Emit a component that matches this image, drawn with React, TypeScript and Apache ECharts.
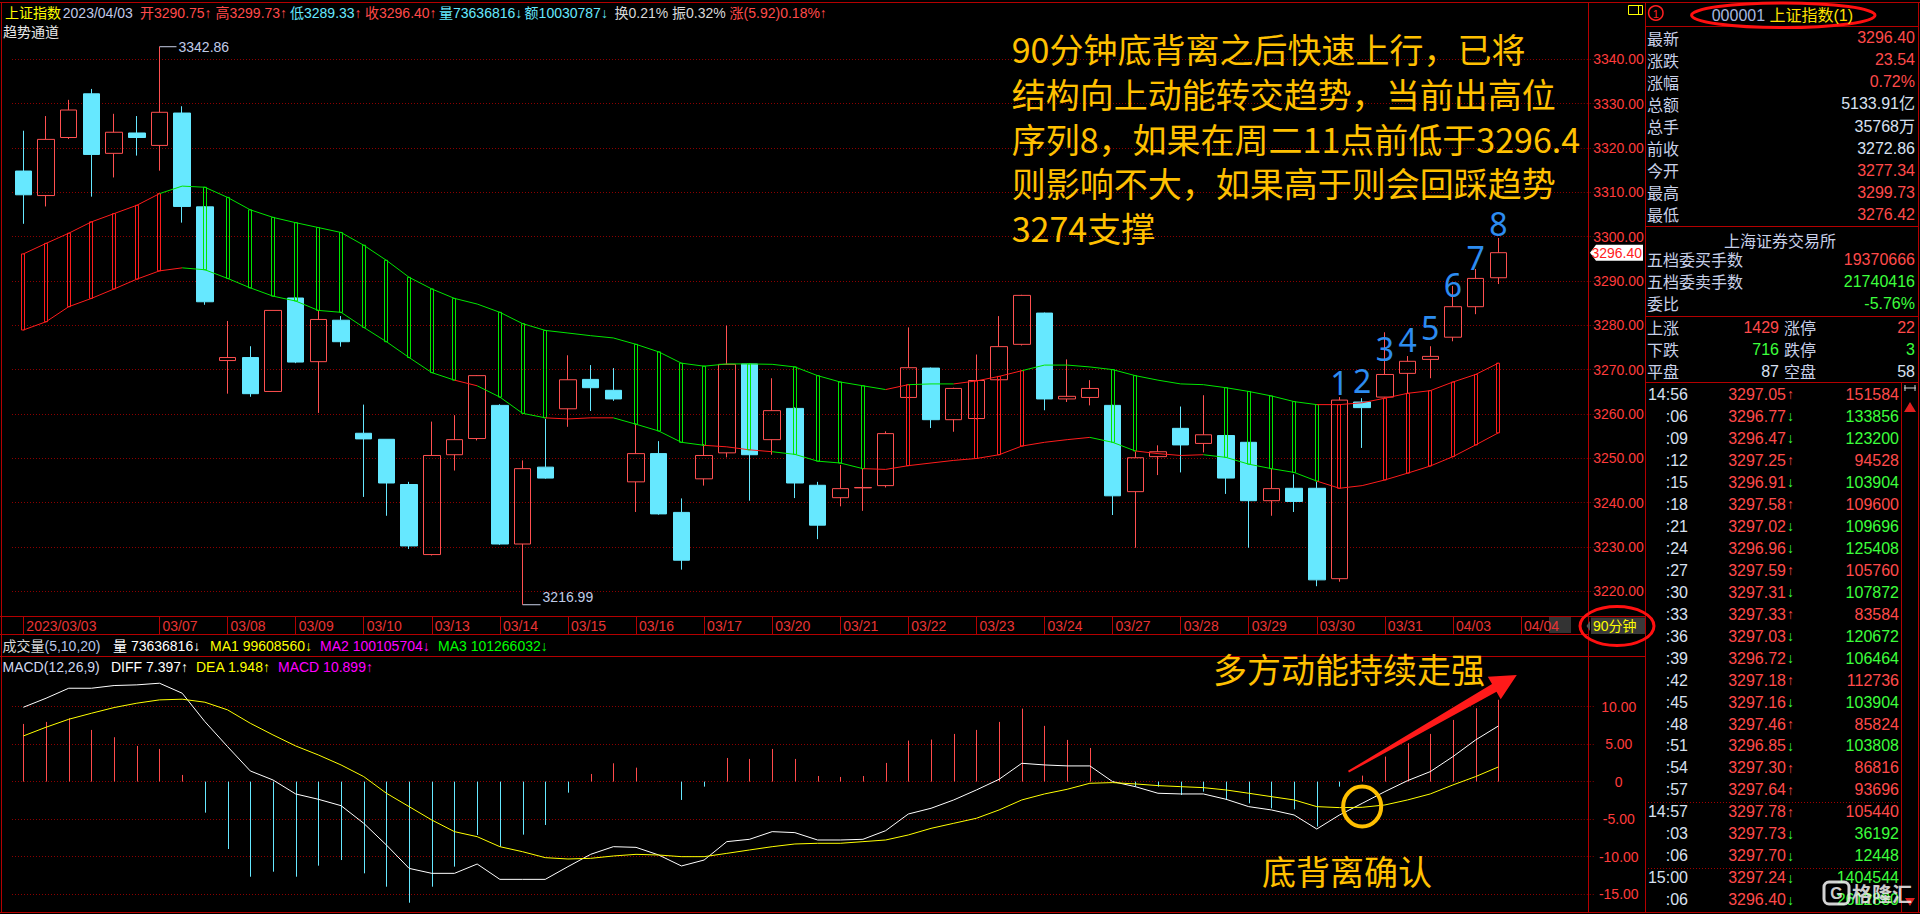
import React, { useEffect, useRef } from "react";
import * as echarts from "echarts";

// ---------- DATA ----------
const days = ["2023/03/03","03/06","03/07","03/08","03/09","03/10","03/13","03/14","03/15","03/16","03/17","03/20","03/21","03/22","03/23","03/24","03/27","03/28","03/29","03/30","03/31","04/03","04/04"];

const openP = [
  3314.82,3309.29,3322.38,3332.24,3318.81,3323.40,3320.60,3327.90,3306.74,3272.07,
  3272.75,3265.10,3286.18,3271.82,3281.17,3255.67,3254.31,3244.11,3228.31,3250.83,
  3254.48,3261.96,3230.69,3248.03,3261.19,3267.82,3265.36,3244.71,3251.08,3237.82,
  3245.39,3251.25,3271.31,3254.23,3261.28,3243.94,3241.14,3243.35,3243.86,3263.75,
  3270.37,3258.73,3258.99,3267.74,3275.73,3282.78,3263.41,3263.75,3261.96,3242.50,
  3250.40,3256.78,3253.38,3255.16,3253.63,3240.46,3243.26,3243.26,3222.87,3262.72,
  3263.83,3269.18,3272.33,3277.34,3284.22,3290.75];
const closeP = [
  3309.46,3321.96,3328.58,3318.56,3323.57,3322.38,3328.07,3306.83,3285.33,3272.75,
  3264.60,3283.38,3271.73,3281.34,3276.32,3254.40,3244.45,3230.26,3250.66,3254.23,
  3268.67,3230.69,3247.69,3245.56,3267.74,3265.95,3263.41,3251.08,3237.48,3227.03,
  3250.66,3271.22,3250.83,3260.77,3244.45,3234.94,3243.18,3243.44,3255.59,3270.46,
  3258.73,3265.78,3267.57,3275.21,3286.77,3263.41,3264.00,3265.78,3241.56,3250.15,
  3251.50,3253.04,3255.33,3245.56,3240.46,3243.18,3240.29,3222.60,3263.15,3261.45,
  3268.93,3271.90,3273.01,3284.22,3290.60,3296.40];
const lowP = [
  3302.92,3306.83,3322.04,3309.04,3313.37,3318.30,3314.90,3303.18,3284.65,3264.60,
  3263.90,3265.10,3271.48,3260.26,3275.20,3241.31,3237.06,3229.58,3228.10,3247.26,
  3254.06,3230.50,3216.99,3245.40,3257.12,3260.69,3262.98,3237.91,3237.30,3224.91,
  3243.86,3250.23,3240.46,3250.83,3241.05,3231.79,3239.19,3238.17,3243.44,3263.60,
  3256.86,3256.01,3258.80,3267.60,3275.47,3260.86,3262.72,3261.96,3237.23,3229.84,
  3246.24,3246.84,3251.34,3241.99,3229.84,3237.06,3237.91,3221.17,3222.19,3252.36,
  3263.70,3264.68,3268.08,3276.42,3282.53,3289.33];
const highP = [
  3323.91,3327.22,3330.88,3333.34,3327.73,3327.22,3342.86,3329.43,3306.90,3281.00,
  3275.30,3283.38,3286.30,3283.38,3282.10,3262.13,3254.31,3244.71,3258.30,3259.75,
  3268.80,3262.21,3249.55,3258.90,3273.26,3271.05,3270.37,3257.88,3253.89,3240.97,
  3253.21,3279.98,3271.50,3268.08,3261.50,3244.71,3248.53,3247.69,3256.10,3279.55,
  3270.50,3265.95,3273.43,3282.10,3286.90,3282.90,3272.33,3267.65,3262.10,3251.50,
  3252.95,3261.70,3264.25,3255.30,3253.70,3247.69,3246.41,3244.71,3263.83,3263.58,
  3278.45,3273.09,3275.30,3288.90,3292.72,3299.73];

const channelUpper = [
  3296.12,3298.50,3300.79,3303.35,3305.22,3307.09,3309.72,3311.42,3311.16,3308.87,
  3306.07,3304.37,3303.17,3302.07,3300.96,3298.08,3294.68,3290.85,3288.22,3286.09,
  3284.82,3282.95,3280.40,3278.87,3278.28,3277.68,3277.17,3275.73,3274.03,3271.48,
  3270.80,3271.31,3271.31,3271.22,3270.63,3268.67,3267.23,3266.38,3265.53,3266.63,
  3266.80,3266.80,3267.48,3268.50,3269.78,3271.05,3271.05,3270.63,3270.03,3268.67,
  3267.65,3266.80,3266.63,3265.95,3265.10,3264.09,3262.81,3262.13,3262.13,3262.55,
  3263.58,3264.68,3265.28,3267.23,3268.93,3271.48];
const channelLower = [
  3278.96,3280.82,3284.22,3286.09,3288.22,3290.43,3292.30,3292.98,3292.55,3290.60,
  3288.47,3286.60,3285.50,3283.38,3282.95,3279.55,3276.32,3272.75,3269.35,3267.65,
  3266.38,3263.83,3260.17,3259.15,3258.90,3259.15,3259.15,3257.71,3256.18,3253.63,
  3252.95,3252.61,3251.93,3251.51,3250.91,3249.38,3248.96,3247.69,3247.52,3248.36,
  3248.96,3249.55,3249.98,3250.83,3252.78,3253.63,3254.23,3254.74,3253.63,3251.68,
  3251.08,3250.66,3250.83,3250.23,3248.70,3247.69,3246.84,3244.88,3243.26,3243.86,
  3245.14,3246.67,3248.28,3250.40,3253.04,3255.76];
// 1 = rising (red) stick, -1 = falling (green) stick, 0 = no stick
const channelStick = [
  1,1,1,1,1,1,1,0,-1,-1,
  -1,-1,-1,-1,-1,-1,-1,-1,-1,-1,
  0,-1,-1,-1,0,0,0,-1,-1,-1,
  -1,0,-1,0,-1,-1,-1,-1,0,1,
  0,0,1,1,1,0,0,0,-1,-1,
  0,0,0,-1,-1,-1,-1,-1,1,0,
  1,1,1,1,1,1];
const upperSeg = [
  0,1,1,1,1,1,1,-1,-1,-1,
  -1,-1,-1,-1,-1,-1,-1,-1,-1,-1,
  -1,-1,-1,-1,-1,-1,-1,-1,-1,-1,
  -1,-1,-1,-1,-1,-1,-1,-1,-1,1,
  -1,-1,1,1,1,-1,-1,-1,-1,-1,
  -1,-1,-1,-1,-1,-1,-1,-1,1,1,
  1,1,1,1,1,1];
const lowerSeg = [
  0,1,1,1,1,1,1,1,-1,-1,
  -1,-1,-1,-1,-1,-1,-1,-1,-1,-1,
  1,-1,-1,-1,1,1,1,-1,-1,-1,
  -1,1,1,1,-1,-1,-1,-1,1,1,
  1,1,1,1,1,1,1,1,-1,-1,
  1,1,1,-1,-1,-1,-1,-1,1,1,
  1,1,1,1,1,1];

const macdHist = [
  7.68,7.95,8.44,6.88,5.91,4.75,4.35,0.89,-4.13,-8.97,
  -12.66,-11.99,-12.66,-11.19,-10.44,-12.21,-13.99,-16.12,-13.99,-11.32,
  -7.10,-8.66,-7.06,-5.77,-1.47,1.02,2.44,1.86,0.05,-2.44,
  -0.67,3.15,3.02,4.35,3.02,0.75,0.62,0.75,2.49,5.46,
  5.60,6.35,6.88,7.95,9.72,7.42,5.55,4.48,0.10,-0.67,
  -0.67,-1.78,-1.33,-2.44,-2.89,-3.55,-3.69,-5.99,-0.67,0.80,
  3.33,5.11,6.35,8.21,9.77,10.90];
const diffLine = [
  9.90,11.10,12.43,12.43,12.79,12.88,13.10,11.77,7.99,4.66,
  1.42,0.22,-1.64,-2.35,-3.20,-5.55,-8.44,-11.55,-12.21,-12.21,
  -10.97,-13.01,-13.01,-13.01,-11.32,-9.68,-8.66,-8.75,-9.77,-11.23,
  -10.44,-7.99,-7.68,-6.66,-6.79,-7.77,-7.77,-7.68,-6.53,-4.31,
  -3.55,-2.44,-1.11,0.31,2.44,2.22,2.09,2.09,0.00,-0.67,
  -1.55,-1.64,-1.64,-2.35,-3.33,-3.77,-4.44,-6.31,-4.44,-2.89,
  -1.33,0.13,1.33,3.33,5.55,7.40];
const deaLine = [
  6.08,7.24,8.30,9.10,9.86,10.44,10.88,10.97,10.57,9.55,
  7.77,6.22,4.75,3.55,2.22,0.67,-1.55,-3.33,-5.11,-6.66,
  -7.33,-8.66,-9.33,-10.12,-10.30,-10.21,-9.90,-9.68,-9.77,-9.99,
  -9.99,-9.55,-9.10,-8.66,-8.30,-8.21,-8.21,-7.99,-7.77,-7.10,
  -6.22,-5.55,-4.88,-3.77,-2.44,-1.64,-1.02,-0.22,-0.13,-0.31,
  -0.53,-0.67,-0.80,-1.11,-1.55,-2.00,-2.44,-3.33,-3.46,-3.42,
  -3.11,-2.44,-1.64,-0.44,0.67,1.95];

const seqIdx = [58,59,60,61,62,63,64,65];
const seqPrice = [3267.06,3267.64,3274.87,3276.83,3279.54,3289.16,3295.28,3302.92];
const seqText = ["1","2","3","4","5","6","7","8"];

const lastPrice = 3296.40;

const noteLines = [
  "90分钟底背离之后快速上行，已将",
  "结构向上动能转交趋势，当前出高位",
  "序列8，如果在周二11点前低于3296.4",
  "则影响不大，如果高于则会回踩趋势",
  "3274支撑",
];

const quoteLabels = ["最新","涨跌","涨幅","总额","总手","前收","今开","最高","最低"];
const quoteValues = ["3296.40","23.54","0.72%","5133.91亿","35768万","3272.86","3277.34","3299.73","3276.42"];
const quoteKind = [1,1,1,0,0,0,1,1,1];

const tickTimes = ["14:56",":06",":09",":12",":15",":18",":21",":24",":27",":30",":33",":36",":39",":42",":45",":48",":51",":54",":57","14:57",":03",":06","15:00",":06"];
const tickPrices = ["3297.05","3296.77","3296.47","3297.25","3296.91","3297.58","3297.02","3296.96","3297.59","3297.31","3297.33","3297.03","3296.72","3297.18","3297.16","3297.46","3296.85","3297.30","3297.64","3297.78","3297.73","3297.70","3297.24","3296.40"];
const tickDir = [1,-1,-1,1,-1,1,-1,-1,1,-1,1,-1,-1,1,-1,1,-1,1,1,1,-1,-1,-1,-1];
const tickVols = ["151584","133856","123200","94528","103904","109600","109696","125408","105760","107872","83584","120672","106464","112736","103904","85824","103808","86816","93696","105440","36192","12448","1404544","2612880"];

// ---------- STYLE ----------
const FONT = '"Liberation Sans", Arial, "Noto Sans CJK SC", sans-serif';
const CJK = '"Noto Sans CJK SC", "Noto Sans", sans-serif';
const RED = "#ff4a4a";
const CANDLE_RED = "#ff5050";
const CYAN = "#66e8ff";
const GREEN_TXT = "#3cff3c";
const CH_RED = "#ff1c1c";
const CH_GREEN = "#00e600";
const BORDER = "#b40000";
const DOT = "#8c0000";
const GOLD = "#ffc000";
const LIGHT = "#c8d0e8";
const BLUE_NUM = "#2d8cf0";

function txt(x: number, y: number, text: string, fill: string, size = 14, align = "left", family = FONT, extra: any = {}, z = 80) {
  return {
    type: "text", x, y, silent: true, z,
    style: { text, fill, fontSize: size, fontFamily: family, align, verticalAlign: "middle", textAlign: align, textVerticalAlign: "middle", ...extra },
  };
}
function rich(x: number, y: number, text: string, styles: Record<string, string>, size = 14, align = "left") {
  const r: any = {};
  Object.keys(styles).forEach((k) => { r[k] = { fill: styles[k], color: styles[k], fontSize: size, fontFamily: FONT }; });
  return txt(x, y, text, "#fff", size, align, FONT, { rich: r });
}
function ln(x1: number, y1: number, x2: number, y2: number, stroke = BORDER, w = 1, dash?: any) {
  return { type: "line", silent: true, z: 40, shape: { x1, y1, x2, y2 }, style: { stroke, lineWidth: w, lineDash: dash } };
}

export default function App() {
  const ref = useRef<HTMLDivElement>(null);
  useEffect(() => {
    const chart = echarts.init(ref.current!, null, { renderer: "svg" });
    const cats: string[] = [];
    days.forEach((d) => cats.push(d, d, d));
    const candleData = openP.map((o, i) => [o, closeP[i], lowP[i], highP[i]]);
    const channelData = channelUpper.map((u, i) => [
      i, u, channelLower[i],
      i > 0 ? channelUpper[i - 1] : u, i > 0 ? channelLower[i - 1] : channelLower[i],
      channelStick[i], upperSeg[i], lowerSeg[i],
    ]);
    const histData = macdHist.map((v, i) => [i, v]);
    const showLbl = (i: number) => i % 3 === 0 && i !== 3;

    const GL = 12, GW = 1565.75;
    chart.setOption({
      animation: false,
      backgroundColor: "#000",
      grid: [
        { left: GL, width: GW, top: 59.4, height: 532, containLabel: false },
        { left: GL, width: GW, top: 706.5, height: 187.8, containLabel: false },
      ],
      xAxis: [
        {
          type: "category", gridIndex: 0, data: cats, boundaryGap: true, offset: 25,
          axisLine: { show: true, lineStyle: { color: BORDER } },
          axisTick: { show: true, alignWithLabel: true, interval: (i: number) => showLbl(i), length: 18, lineStyle: { color: BORDER } },
          axisLabel: { show: true, interval: (i: number) => showLbl(i), color: "#e83434", fontSize: 14, fontFamily: FONT, align: "left", margin: 3, padding: [0, 0, 0, 3] },
          splitLine: { show: false },
        },
        { type: "category", gridIndex: 1, data: cats, boundaryGap: true, show: false },
      ],
      yAxis: [
        {
          type: "value", gridIndex: 0, position: "right", min: 3220, max: 3340, interval: 10, scale: true,
          axisLine: { show: false },
          axisTick: { show: true, length: 16, lineStyle: { color: DOT, type: [1, 2] } },
          axisLabel: { color: "#ff3c3c", fontSize: 14, fontFamily: FONT, align: "right", margin: 66, formatter: (v: number) => v.toFixed(2) },
          splitLine: { show: true, lineStyle: { color: DOT, type: [1, 2], width: 1 } },
        },
        {
          type: "value", gridIndex: 1, position: "right", min: -15, max: 10, interval: 5,
          axisLine: { show: false },
          axisTick: { show: true, length: 16, lineStyle: { color: DOT, type: [1, 2] } },
          axisLabel: { color: "#ff3c3c", fontSize: 14, fontFamily: FONT, align: "center", margin: 41, formatter: (v: number) => (v === 0 ? "0" : v.toFixed(2)) },
          splitLine: { show: true, lineStyle: { color: DOT, type: [1, 2], width: 1 } },
        },
      ],
      series: [
        {
          type: "candlestick", xAxisIndex: 0, yAxisIndex: 0, data: candleData, barWidth: 17, clip: false, z: 2,
          itemStyle: { color: "rgba(0,0,0,0)", color0: CYAN, borderColor: CANDLE_RED, borderColor0: CYAN, borderColorDoji: CANDLE_RED, borderWidth: 1 },
        },
        {
          type: "custom", xAxisIndex: 0, yAxisIndex: 0, data: channelData, z: 3, clip: false, silent: true,
          encode: { x: 0, y: [1, 2] },
          renderItem: (params: any, api: any) => {
            const i = api.value(0);
            const u = api.coord([i, api.value(1)]);
            const l = api.coord([i, api.value(2)]);
            const ch: any[] = [];
            if (i > 0) {
              const pu = api.coord([i - 1, api.value(3)]);
              const pl = api.coord([i - 1, api.value(4)]);
              ch.push({ type: "line", shape: { x1: pu[0], y1: pu[1], x2: u[0], y2: u[1] }, style: { stroke: api.value(6) > 0 ? CH_RED : CH_GREEN, lineWidth: 1 } });
              ch.push({ type: "line", shape: { x1: pl[0], y1: pl[1], x2: l[0], y2: l[1] }, style: { stroke: api.value(7) > 0 ? CH_RED : CH_GREEN, lineWidth: 1 } });
            }
            const s = api.value(5);
            if (s !== 0) {
              ch.push({ type: "rect", shape: { x: Math.round(u[0]) - 1.5, y: u[1], width: 3, height: l[1] - u[1] }, style: { stroke: s > 0 ? CH_RED : CH_GREEN, fill: "none", lineWidth: 1 } });
            }
            return { type: "group", children: ch };
          },
        },
        {
          type: "custom", xAxisIndex: 1, yAxisIndex: 1, data: histData, clip: false, silent: true,
          encode: { x: 0, y: 1 },
          renderItem: (params: any, api: any) => {
            const i = api.value(0); const v = api.value(1);
            const a = api.coord([i, 0]); const b = api.coord([i, v]);
            const x = Math.round(a[0]) + 0.5;
            return { type: "line", shape: { x1: x, y1: a[1], x2: x, y2: b[1] }, style: { stroke: v >= 0 ? RED : CYAN, lineWidth: 1 } };
          },
        },
        { type: "line", xAxisIndex: 1, yAxisIndex: 1, data: diffLine, symbol: "none", clip: false, lineStyle: { color: "#ffffff", width: 1 }, z: 4 },
        { type: "line", xAxisIndex: 1, yAxisIndex: 1, data: deaLine, symbol: "none", clip: false, lineStyle: { color: "#ffff00", width: 1 }, z: 4 },
      ],
    });

    const pt = (idx: number, v: number, g = 0) => chart.convertToPixel({ xAxisIndex: g, yAxisIndex: g } as any, [idx, v]) as number[];
    const G: any[] = [];

    // borders
    G.push(ln(0, 2.5, 1920, 2.5));
    G.push(ln(1.5, 2.5, 1.5, 913));
    G.push(ln(1588.5, 2.5, 1588.5, 913));
    G.push(ln(1645.5, 2.5, 1645.5, 913));
    G.push(ln(1918.5, 2.5, 1918.5, 913));
    G.push(ln(0, 616.5, 1645.5, 616.5));
    G.push(ln(0, 634.5, 1588.5, 634.5));
    G.push(ln(0, 656.5, 1645.5, 656.5));
    G.push(ln(0, 912.5, 1920, 912.5));
    G.push(ln(1645.5, 26.5, 1918.5, 26.5));
    G.push(ln(1645.5, 226.5, 1918.5, 226.5));
    G.push(ln(1645.5, 316.5, 1918.5, 316.5));
    G.push(ln(1645.5, 382.5, 1918.5, 382.5));
    G.push(ln(1901.5, 382.5, 1901.5, 912.5));
    G.push(ln(1648, 802.5, 1900, 802.5, "#a00000", 1, [1, 2]));
    G.push(ln(1648, 868.5, 1900, 868.5, "#a00000", 1, [1, 2]));

    // top info row
    const tY = 13;
    G.push(txt(5, tY, "上证指数", "#ffff00"));
    G.push(txt(62.8, tY, "2023/04/03", "#c0c8e8"));
    G.push(txt(140, tY, "开3290.75↑", RED));
    G.push(txt(215.5, tY, "高3299.73↑", RED));
    G.push(rich(290, tY, "{c|低3289.33}{r|↑}", { c: CYAN, r: RED }));
    G.push(txt(365, tY, "收3296.40↑", RED));
    G.push(txt(439, tY, "量73636816↓", CYAN));
    G.push(txt(524.6, tY, "额10030787↓", CYAN));
    G.push(txt(614.5, tY, "换0.21%", "#d8d8d8"));
    G.push(txt(672, tY, "振0.32%", "#d8d8d8"));
    G.push(txt(729.6, tY, "涨(5.92)0.18%↑", RED));
    G.push(txt(3, 32, "趋势通道", "#e8e8e8"));

    // volume & macd titles
    G.push(rich(2.5, 646, "{w|成交量}{b|(5,10,20)}", { w: "#d8d8d8", b: "#b8c4e8" }));
    G.push(txt(113, 646, "量 73636816↓", "#ffffff"));
    G.push(txt(210, 646, "MA1 99608560↓", "#ffff00"));
    G.push(txt(320, 646, "MA2 100105704↓", "#ff00ff"));
    G.push(txt(438, 646, "MA3 101266032↓", "#00ff00"));
    G.push(txt(2.5, 666.5, "MACD(12,26,9)", "#d0d8f0"));
    G.push(txt(111, 666.5, "DIFF 7.397↑", "#ffffff"));
    G.push(txt(196, 666.5, "DEA 1.948↑", "#ffff00"));
    G.push(txt(278, 666.5, "MACD 10.899↑", "#ff00ff"));

    // high / low annotations
    const hp = pt(6, highP[6]);
    G.push(ln(hp[0], hp[1], hp[0] + 17, hp[1], "#c8d0e8"));
    G.push(txt(hp[0] + 19, hp[1], highP[6].toFixed(2), "#c0cce8"));
    const lp = pt(22, lowP[22]);
    G.push(ln(lp[0], lp[1], lp[0] + 18, lp[1], "#c8d0e8"));
    G.push(txt(lp[0] + 20, lp[1] - 8, lowP[22].toFixed(2), "#c0cce8"));

    // sequence numbers
    seqIdx.forEach((idx, k) => {
      const p = pt(idx, seqPrice[k]);
      G.push(txt(p[0], p[1], seqText[k], BLUE_NUM, 32, "center", '"Noto Sans", "DejaVu Sans", sans-serif'));
    });

    // note text
    noteLines.forEach((s, k) => {
      G.push(txt(1011.7, 48.8 + k * 44.7, s, GOLD, 34, "left", CJK));
    });
    G.push(txt(1213, 668, "多方动能持续走强", GOLD, 34, "left", CJK));
    G.push(txt(1262, 870, "底背离确认", GOLD, 34, "left", CJK));

    // orange circle at MACD crossing
    const cc = pt(58.67, -3.3, 1);
    G.push({ type: "ellipse", silent: true, z: 60, shape: { cx: cc[0], cy: cc[1], rx: 19, ry: 20 }, style: { stroke: GOLD, fill: "none", lineWidth: 4 } });

    // red arrow
    const T = [1348.5, 771.7], P = [1516.8, 675];
    const dx = P[0] - T[0], dy = P[1] - T[1], L = Math.hypot(dx, dy);
    const ux = dx / L, uy = dy / L, nx = -uy, ny = ux;
    const B = [P[0] - ux * 26, P[1] - uy * 26];
    const pts = [
      [T[0] + nx * 1, T[1] + ny * 1],
      [B[0] + nx * 4.5, B[1] + ny * 4.5],
      [B[0] + nx * 13, B[1] + ny * 13],
      [P[0], P[1]],
      [B[0] - nx * 13, B[1] - ny * 13],
      [B[0] - nx * 4.5, B[1] - ny * 4.5],
      [T[0] - nx * 1, T[1] - ny * 1],
    ];
    G.push({ type: "polygon", silent: true, z: 60, shape: { points: pts }, style: { fill: "#ff1a1a" } });

    // last price marker
    const lpY = pt(0, lastPrice)[1];
    G.push({ type: "polygon", silent: true, z: 45, shape: { points: [[1590, lpY], [1596, lpY - 8], [1643, lpY - 8], [1643, lpY + 8], [1596, lpY + 8]] }, style: { fill: "#ffffff" } });
    G.push(txt(1642, lpY, lastPrice.toFixed(2), "#ff2020", 14, "right"));

    // 04/04 scroll box + 90分钟 box
    G.push({ type: "rect", silent: true, z: -1, shape: { x: 1549, y: 617, width: 22, height: 16 }, style: { fill: "#333333" } });
    G.push({ type: "rect", silent: true, z: 45, shape: { x: 1591, y: 617.5, width: 54, height: 16.5 }, style: { fill: "#3a3a3a" } });
    G.push({ type: "polygon", silent: true, z: 45, shape: { points: [[1586.5, 626], [1590, 621], [1590, 631]] }, style: { fill: "#555" } });
    G.push(txt(1593, 626, "90分钟", "#ffff00", 14));
    G.push({ type: "ellipse", silent: true, z: 60, shape: { cx: 1617, cy: 626, rx: 37, ry: 19.5 }, style: { stroke: "#ff1010", fill: "none", lineWidth: 3 } });

    // right panel header
    G.push({ type: "rect", silent: true, z: 50, shape: { x: 1628.5, y: 5.5, width: 14, height: 9 }, style: { stroke: "#ffff00", fill: "none", lineWidth: 1 } });
    G.push(ln(1638.5, 5.5, 1638.5, 14.5, "#ffff00"));
    G.push({ type: "circle", silent: true, z: 50, shape: { cx: 1655.8, cy: 13, r: 7.2 }, style: { stroke: "#ff2020", fill: "none", lineWidth: 1.5 } });
    G.push(txt(1655.8, 13.5, "1", "#ff2020", 11, "center"));
    G.push(rich(1711.7, 15, "{a|000001 }{b|上证指数(1)}", { a: "#a8b8e0", b: "#ffe000" }, 16));
    G.push({ type: "ellipse", silent: true, z: 60, shape: { cx: 1783.3, cy: 15.3, rx: 91.7, ry: 12.3 }, style: { stroke: "#ff1010", fill: "none", lineWidth: 3 } });

    quoteLabels.forEach((s, k) => {
      const y = 37.7 + k * 22.08;
      G.push(txt(1647, y, s, LIGHT, 16, "left", CJK));
      G.push(txt(1915, y, quoteValues[k], quoteKind[k] > 0 ? RED : "#d8e0f0", 16, "right"));
    });
    G.push(txt(1780, 240, "上海证券交易所", LIGHT, 16, "center", CJK));
    G.push(txt(1647, 259.3, "五档委买手数", LIGHT, 16, "left", CJK));
    G.push(txt(1915, 259.3, "19370666", RED, 16, "right"));
    G.push(txt(1647, 281, "五档委卖手数", LIGHT, 16, "left", CJK));
    G.push(txt(1915, 281, "21740416", GREEN_TXT, 16, "right"));
    G.push(txt(1647, 303.3, "委比", LIGHT, 16, "left", CJK));
    G.push(txt(1915, 303.3, "-5.76%", GREEN_TXT, 16, "right"));
    const breadth = [
      ["上涨", "1429", "涨停", "22", RED],
      ["下跌", "716", "跌停", "3", GREEN_TXT],
      ["平盘", "87", "空盘", "58", "#d8e0f0"],
    ];
    breadth.forEach((r, k) => {
      const y = 327.3 + k * 21.85;
      G.push(txt(1647, y, r[0], LIGHT, 16, "left", CJK));
      G.push(txt(1779, y, r[1], r[4], 16, "right"));
      G.push(txt(1784, y, r[2], LIGHT, 16, "left", CJK));
      G.push(txt(1915, y, r[3], r[4], 16, "right"));
    });

    // tick list
    tickTimes.forEach((t, k) => {
      const y = 394.3 + k * 21.98;
      G.push(txt(1688, y, t, "#d8e0f0", 16, "right"));
      G.push(txt(1786, y, tickPrices[k], RED, 16, "right"));
      G.push(txt(1787, y, tickDir[k] > 0 ? "↑" : "↓", tickDir[k] > 0 ? RED : GREEN_TXT, 14, "left"));
      G.push(txt(1899, y, tickVols[k], tickDir[k] > 0 ? RED : GREEN_TXT, 16, "right"));
    });
    // scroll column icons
    G.push(ln(1904, 388, 1916, 388, "#d0d0d0"));
    G.push(ln(1905, 385, 1905, 391, "#d0d0d0"));
    G.push(ln(1915, 385, 1915, 391, "#d0d0d0"));
    G.push({ type: "polygon", silent: true, z: 50, shape: { points: [[1910, 402], [1904, 412], [1916, 412]] }, style: { fill: "#e02020" } });
    G.push({ type: "polygon", silent: true, z: 50, shape: { points: [[1910, 906], [1905, 898], [1915, 898]] }, style: { fill: "#e02020" } });

    // watermark
    G.push({ type: "rect", silent: true, z: 90, shape: { x: 1824, y: 882, width: 25, height: 22, r: 5 }, style: { stroke: "rgba(235,235,235,0.9)", fill: "none", lineWidth: 3 } });
    G.push(txt(1836.5, 893.5, "G", "rgba(235,235,235,0.9)", 16, "center", FONT, { fontWeight: "bold" }, 95));
    G.push(txt(1852, 893, "格隆汇", "rgba(235,235,235,0.88)", 20, "left", CJK, { fontWeight: "bold" }, 95));

    chart.setOption({ graphic: { elements: G } });
    return () => chart.dispose();
  }, []);
  return <div ref={ref} style={{ position: "fixed", left: 0, top: 0, width: 1920, height: 914, background: "#000" }} />;
}
